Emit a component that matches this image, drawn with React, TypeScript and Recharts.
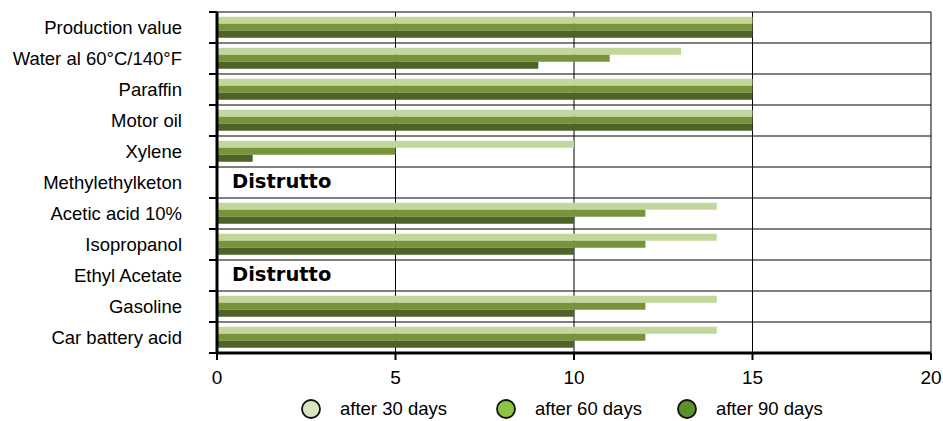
import { Bar, BarChart, CartesianGrid, XAxis, YAxis, Legend, ReferenceLine } from 'recharts';

const categories = [
  'Production value',
  'Water al 60°C/140°F',
  'Paraffin',
  'Motor oil',
  'Xylene',
  'Methylethylketon',
  'Acetic acid 10%',
  'Isopropanol',
  'Ethyl Acetate',
  'Gasoline',
  'Car battery acid',
];

const after30 = [15, 13, 15, 15, 10, 0, 14, 14, 0, 14, 14];
const after60 = [15, 11, 15, 15, 5, 0, 12, 12, 0, 12, 12];
const after90 = [15, 9, 15, 15, 1, 0, 10, 10, 0, 10, 10];

const destroyed = ['Methylethylketon', 'Ethyl Acetate'];
const destroyedLabel = 'Distrutto';

const xTicks = [0, 5, 10, 15, 20];

const seriesNames = ['after 30 days', 'after 60 days', 'after 90 days'];
const barColors = ['#c3d69b', '#77933c', '#4f6228'];
const legendColors = ['#d8e6c0', '#8cc63f', '#5f8f2d'];

const FONT = '"Liberation Sans", Arial, sans-serif';
const PLOT_LEFT = 217;

const data = categories.map((name, i) => ({
  name,
  d30: after30[i],
  d60: after60[i],
  d90: after90[i],
}));

const CategoryTick = (props: any) => {
  const { y, payload, index } = props;
  const half = payload && payload.offset ? payload.offset : 15.5;
  const last = index === categories.length - 1;
  return (
    <g>
      <text x={PLOT_LEFT - 35} y={y} dy={6} textAnchor="end" fill="#000" fontSize={18.5} fontFamily={FONT}>
        {payload.value}
      </text>
      <line x1={PLOT_LEFT - 8} x2={PLOT_LEFT} y1={y - half} y2={y - half} stroke="#000" strokeWidth={2} />
      {last && <line x1={PLOT_LEFT - 8} x2={PLOT_LEFT} y1={y + half} y2={y + half} stroke="#000" strokeWidth={2} />}
    </g>
  );
};

const DestroyedLabel = (props: any) => {
  const { viewBox } = props;
  if (!viewBox) return null;
  return (
    <text x={viewBox.x + 15} y={viewBox.y + 5.5} fill="#000" fontSize={19.5} fontWeight="bold" fontFamily='"DejaVu Sans", sans-serif'>
      {destroyedLabel}
    </text>
  );
};

const legendGaps = [48, 34, 0];

const LegendContent = () => (
  <div style={{ display: 'flex', alignItems: 'flex-end', height: 38, paddingLeft: 300, paddingBottom: 1, boxSizing: 'border-box' }}>
    {seriesNames.map((name, i) => (
      <div key={name} style={{ display: 'flex', alignItems: 'center', marginRight: legendGaps[i] }}>
        <svg width={22} height={22} style={{ marginRight: 18 }}>
          <circle cx={11} cy={11} r={9} fill={legendColors[i]} stroke="#111" strokeWidth={1.8} />
        </svg>
        <span style={{ fontFamily: FONT, fontSize: 18.5, color: '#000', lineHeight: '22px' }}>{name}</span>
      </div>
    ))}
  </div>
);

export default function App() {
  return (
    <div style={{ position: 'absolute', left: 0, top: 0, background: '#fff' }}>
      <BarChart
        width={943}
        height={421}
        data={data}
        layout="vertical"
        margin={{ top: 12, right: 12, left: 0, bottom: 0 }}
        barCategoryGap="15%"
        barGap={0}
      >
        <CartesianGrid
          stroke="#000"
          strokeWidth={1}
          horizontalCoordinatesGenerator={({ offset }: any) =>
            categories.map((_, i) => offset.top + (i * offset.height) / categories.length).concat(offset.top + offset.height)
          }
        />
        <XAxis
          type="number"
          domain={[0, 20]}
          ticks={xTicks}
          height={30}
          axisLine={{ stroke: '#000', strokeWidth: 3 }}
          tickLine={{ stroke: '#000', strokeWidth: 2 }}
          tickSize={7}
          tickMargin={11}
          tick={{ fill: '#000', fontSize: 19, fontFamily: FONT }}
        />
        <YAxis
          type="category"
          dataKey="name"
          width={PLOT_LEFT}
          axisLine={{ stroke: '#000', strokeWidth: 3 }}
          tickLine={false}
          tick={<CategoryTick />}
          interval={0}
        />
        <Legend verticalAlign="bottom" content={<LegendContent />} wrapperStyle={{ left: 0, bottom: 0, width: 943 }} />
        <Bar dataKey="d30" name={seriesNames[0]} fill={barColors[0]} isAnimationActive={false} />
        <Bar dataKey="d60" name={seriesNames[1]} fill={barColors[1]} isAnimationActive={false} />
        <Bar dataKey="d90" name={seriesNames[2]} fill={barColors[2]} isAnimationActive={false} />
        {destroyed.map((name) => (
          <ReferenceLine key={name} y={name} stroke="none" label={<DestroyedLabel />} />
        ))}
      </BarChart>
    </div>
  );
}
